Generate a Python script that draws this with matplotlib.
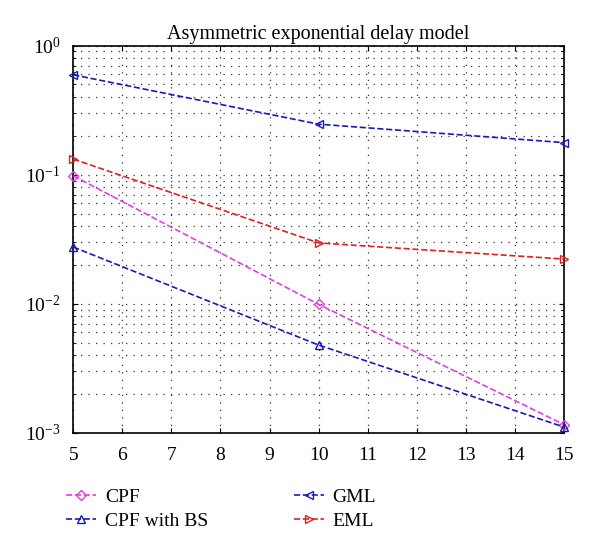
import matplotlib
matplotlib.use('Agg')
import matplotlib.pyplot as plt
from matplotlib.ticker import LogLocator, NullFormatter

plt.rcParams['font.family'] = ['Liberation Serif', 'DejaVu Serif']
plt.rcParams['mathtext.fontset'] = 'stix'

# data
snr = [5, 10, 15]
cpf = [0.098, 0.0099, 0.00116]
cpf_bs = [0.0275, 0.00479, 0.00111]
gml = [0.593, 0.246, 0.177]
eml = [0.132, 0.0296, 0.0222]

fig = plt.figure(figsize=(6.0, 5.55), dpi=100)
ax = fig.add_axes([0.122, 0.22, 0.818, 0.698])

common = dict(linestyle='--', lw=1.2, markerfacecolor='none', clip_on=False, zorder=3)
ax.semilogy(snr, cpf, color='#e040e0', marker='D', markersize=5, label='CPF', **common)
ax.semilogy(snr, cpf_bs, color='#1a1ab8', marker='^', markersize=6, label='CPF with BS', **common)
ax.semilogy(snr, gml, color='#1a1ab8', marker='<', markersize=6, label='GML', **common)
ax.semilogy(snr, eml, color='#dd2222', marker='>', markersize=6, label='EML', **common)

ax.set_xlim(5, 15)
ax.set_ylim(1e-3, 1)
ax.set_xticks(range(5, 16))
ax.yaxis.set_major_locator(LogLocator(base=10, numticks=10))
ax.yaxis.set_minor_locator(LogLocator(base=10, subs=range(2, 10), numticks=10))
ax.yaxis.set_minor_formatter(NullFormatter())

grid_style = dict(linestyle=(0, (1, 5)), color='#333333', lw=0.9)
ax.grid(True, which='major', **grid_style)
ax.grid(True, which='minor', axis='y', **grid_style)
ax.tick_params(which='both', direction='in', top=True, right=True, labelsize=14)
ax.tick_params(axis='x', pad=10)
ax.tick_params(axis='y', pad=9)
for s in ax.spines.values():
    s.set_linewidth(1.2)

ax.set_title('Asymmetric exponential delay model', fontsize=14.5, pad=5)

ax.legend(loc='upper left', bbox_to_anchor=(-0.051, -0.097), ncol=2, frameon=False,
          fontsize=14, columnspacing=4.4, handlelength=1.55, handletextpad=0.46,
          labelspacing=0.35)

fig.savefig('out.png', dpi=100)
